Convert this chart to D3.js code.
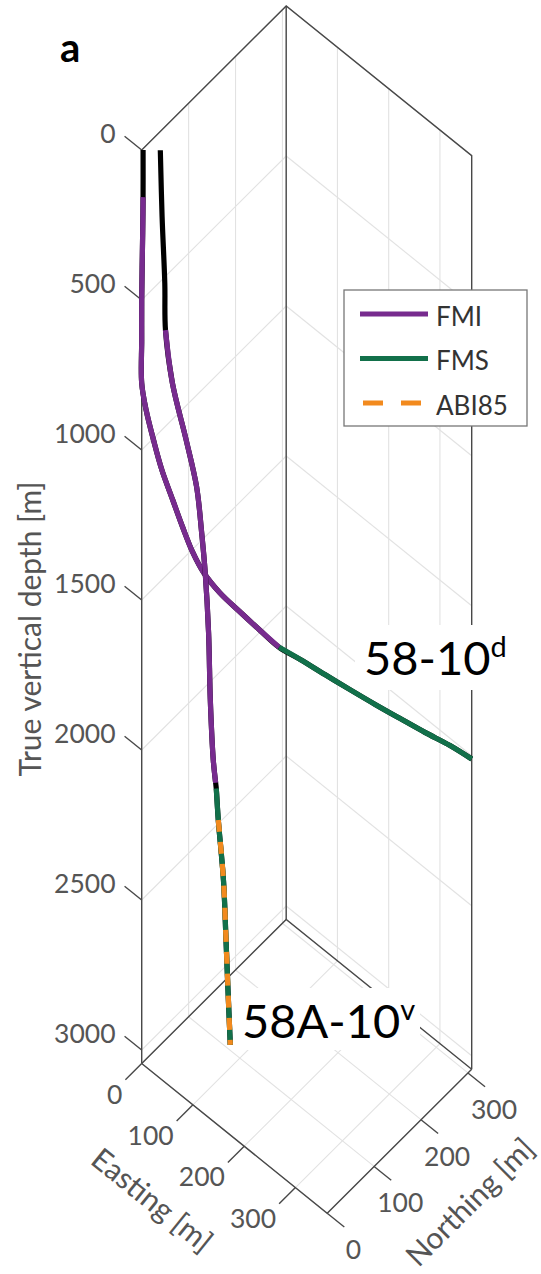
<!DOCTYPE html>
<html>
<head>
<meta charset="utf-8">
<script src="https://cdn.jsdelivr.net/npm/d3@7"></script>
<style>
	body { margin: 0; background: #fff; }
	text { font-family: Lato, "Open Sans", sans-serif; }
</style>
</head>
<body>
<div id="chart"></div>
<script>

//Well 58-10d (deviated) - Easting, Northing, TVD [m]
var wellD_east  = [1.5, 1.5, 1, 0, 0, 0, 5, 13, 22, 34, 45, 56, 68, 86, 109, 130, 151, 174, 201, 228, 256, 283, 311, 338, 362];
var wellD_north = [1.3, 1.3, 1, 0, 0, 0, 4, 11, 19, 29, 38, 48, 58, 73, 93, 110, 128, 148, 171, 194, 218, 241, 264, 288, 308];
var wellD_tvd   = [0, 157, 277, 500, 633, 777, 866, 966, 1066, 1165, 1254, 1340, 1406, 1472, 1538, 1593, 1649, 1689, 1738, 1786, 1835, 1880, 1924, 1968, 2011];

//Well 58A-10v (vertical)
var wellV_east  = [20.4, 22.4, 25.3, 26.1, 33.7, 48.8, 60.2, 65.8, 69.7, 73.4, 75.3, 78.5, 81.1, 81.8, 84, 89.7, 92.5, 94.7, 97.2];
var wellV_north = [17.4, 19, 21.6, 22.2, 28.6, 41.5, 51.2, 56, 59.3, 62.4, 64, 66.8, 69, 69.6, 71.5, 76.3, 78.7, 80.5, 82.7];
var wellV_tvd   = [0, 221, 443, 599, 775, 964, 1119, 1273, 1406, 1606, 1829, 2029, 2105, 2124, 2229, 2429, 2629, 2795, 2978];

//Logged intervals (TVD top / base)
var wellD_logs = [
	{log: "FMI", top: 157, base: 1649},
	{log: "FMS", top: 1649, base: 2011}
];
var wellV_logs = [
	{log: "FMI", top: 599, base: 2105},
	{log: "FMS", top: 2124, base: 2978},
	{log: "ABI85", top: 2229, base: 2978}
];

var logNames  = ["FMI", "FMS", "ABI85"];
var logColors = ["#772b8e", "#12704a", "#f28a1e"];

var depthTicks = [0, 500, 1000, 1500, 2000, 2500, 3000];
var eastTicks  = [0, 100, 200, 300];
var northTicks = [0, 100, 200, 300];

///////////////////////////////////////////////////////////////////////////
/////////////////////////////// Set-up SVG ////////////////////////////////
///////////////////////////////////////////////////////////////////////////

var width = 541;
var height = 1274;

var svg = d3.select("#chart")
	.append("svg")
	.attr("width", width)
	.attr("height", height);

var eMax = 362, nMax = 308, zMax = 3045;

//3D box projected on screen
var origin = [141.7, 150];
var eSpan = [185.5, 149.7];
var nSpan = [144.5, -144];

var eScale = d3.scaleLinear().domain([0, eMax]).range([0, 1]);
var nScale = d3.scaleLinear().domain([0, nMax]).range([0, 1]);
var zScale = d3.scaleLinear().domain([0, zMax]).range([150, 1063.5]);

function proj(e, n, z) {
	var u = eScale(e), v = nScale(n);
	return [origin[0] + u*eSpan[0] + v*nSpan[0], zScale(z) + u*eSpan[1] + v*nSpan[1]];
}

var eLen = Math.hypot(eSpan[0], eSpan[1]);
var nLen = Math.hypot(nSpan[0], nSpan[1]);
var eUnit = [eSpan[0]/eLen, eSpan[1]/eLen];
var nUnit = [nSpan[0]/nLen, nSpan[1]/nLen];

var line = d3.line();
var smooth = d3.line().curve(d3.curveCatmullRom.alpha(0.5));

function seg(g, a, b) {
	g.append("line")
		.attr("x1", a[0]).attr("y1", a[1])
		.attr("x2", b[0]).attr("y2", b[1]);
}

///////////////////////////////////////////////////////////////////////////
//////////////////////////////// Grid ////////////////////////////////////
///////////////////////////////////////////////////////////////////////////

var grid = svg.append("g")
	.style("stroke", "#e2e2e2")
	.style("stroke-width", 1.1);

northTicks.forEach(function(n) {
	seg(grid, proj(0, n, 0), proj(0, n, zMax));
	seg(grid, proj(0, n, zMax), proj(eMax, n, zMax));
});
eastTicks.forEach(function(e) {
	seg(grid, proj(e, nMax, 0), proj(e, nMax, zMax));
	seg(grid, proj(e, 0, zMax), proj(e, nMax, zMax));
});
depthTicks.forEach(function(z) {
	seg(grid, proj(0, 0, z), proj(0, nMax, z));
	seg(grid, proj(0, nMax, z), proj(eMax, nMax, z));
});

///////////////////////////////////////////////////////////////////////////
///////////////////////////////// Box ////////////////////////////////////
///////////////////////////////////////////////////////////////////////////

var box = svg.append("g")
	.style("stroke", "#484848")
	.style("stroke-width", 1.4)
	.style("fill", "none");

box.append("path").attr("d", line([proj(0,0,zMax), proj(0,0,0), proj(0,nMax,0), proj(eMax,nMax,0), proj(eMax,nMax,zMax)]));
box.append("path").attr("d", line([proj(0,nMax,0), proj(0,nMax,zMax)]));
box.append("path").attr("d", line([proj(0,0,zMax), proj(0,nMax,zMax), proj(eMax,nMax,zMax)]));
box.append("path").attr("d", line([proj(0,0,zMax), proj(eMax,0,zMax), proj(eMax,nMax,zMax)]));

///////////////////////////////////////////////////////////////////////////
//////////////////////////////// Axes ////////////////////////////////////
///////////////////////////////////////////////////////////////////////////

var axes = svg.append("g")
	.style("font-size", "26.5px")
	.style("fill", "#555");

depthTicks.forEach(function(z) {
	var p = proj(0, 0, z);
	var q = [p[0] - eUnit[0]*22, p[1] - eUnit[1]*22];
	axes.append("line").attr("x1", p[0]).attr("y1", p[1]).attr("x2", q[0]).attr("y2", q[1])
		.style("stroke", "#484848").style("stroke-width", 1.4);
	axes.append("text")
		.attr("x", q[0] - 9)
		.attr("y", p[1] - 16.5)
		.attr("dy", "0.35em")
		.style("text-anchor", "end")
		.text(z);
});

eastTicks.forEach(function(e) {
	var p = proj(e, 0, zMax);
	var q = [p[0] - nUnit[0]*23, p[1] - nUnit[1]*23];
	axes.append("line").attr("x1", p[0]).attr("y1", p[1]).attr("x2", q[0]).attr("y2", q[1])
		.style("stroke", "#484848").style("stroke-width", 1.4);
	axes.append("text")
		.attr("x", q[0] - 3)
		.attr("y", q[1] + 24)
		.style("text-anchor", "end")
		.text(e);
});

northTicks.forEach(function(n) {
	var p = proj(eMax, n, zMax);
	var q = [p[0] + eUnit[0]*22, p[1] + eUnit[1]*22];
	axes.append("line").attr("x1", p[0]).attr("y1", p[1]).attr("x2", q[0]).attr("y2", q[1])
		.style("stroke", "#484848").style("stroke-width", 1.4);
	axes.append("text")
		.attr("x", q[0] + 9)
		.attr("y", q[1] + 32)
		.style("text-anchor", "middle")
		.text(n);
});

//Axis titles
axes.append("text")
	.attr("transform", "translate(30,629) rotate(-90)")
	.attr("dy", "0.35em")
	.style("text-anchor", "middle")
	.style("font-size", "30px")
	.text("True vertical depth [m]");

axes.append("text")
	.attr("transform", "translate(152,1200) rotate(" + (Math.atan2(eSpan[1], eSpan[0])*180/Math.PI) + ")")
	.attr("dy", "0.35em")
	.style("text-anchor", "middle")
	.style("font-size", "30px")
	.text("Easting [m]");

axes.append("text")
	.attr("transform", "translate(470,1202) rotate(" + (Math.atan2(nSpan[1], nSpan[0])*180/Math.PI) + ")")
	.attr("dy", "0.35em")
	.style("text-anchor", "middle")
	.style("font-size", "30px")
	.text("Northing [m]");

///////////////////////////////////////////////////////////////////////////
/////////////////////////////// Well labels //////////////////////////////
///////////////////////////////////////////////////////////////////////////

function wellLabel(x, y, main, sup, bx, by, bw, bh) {
	svg.append("rect")
		.attr("x", bx).attr("y", by).attr("width", bw).attr("height", bh)
		.style("fill", "white");
	var t = svg.append("text")
		.attr("x", x)
		.attr("y", y)
		.style("font-size", "47px")
		.style("fill", "black");
	t.append("tspan").text(main);
	t.append("tspan").attr("dy", -18).style("font-size", "29px").text(sup);
}

wellLabel(364, 675, "58-10", "d", 355, 625, 160, 65);
wellLabel(242, 1038, "58A-10", "v", 238, 988, 182, 62);

///////////////////////////////////////////////////////////////////////////
///////////////////////////////// Wells //////////////////////////////////
///////////////////////////////////////////////////////////////////////////

var colorScale = d3.scaleOrdinal().domain(logNames).range(logColors);

function drawWell(east, north, tvd, logs) {
	var pts = tvd.map(function(z, i) { return {e: east[i], n: north[i], z: z}; });
	var g = svg.append("g").style("fill", "none").style("stroke-width", 5.2).style("stroke-linejoin", "round");

	g.append("path")
		.attr("d", smooth(pts.map(function(p) { return proj(p.e, p.n, p.z); })))
		.style("stroke", "black");

	logs.forEach(function(l) {
		var sub = pts.filter(function(p) { return p.z >= l.top && p.z <= l.base; });
		g.append("path")
			.attr("d", smooth(sub.map(function(p) { return proj(p.e, p.n, p.z); })))
			.style("stroke", colorScale(l.log))
			.style("stroke-dasharray", l.log === "ABI85" ? "12,10" : null);
	});
}

drawWell(wellD_east, wellD_north, wellD_tvd, wellD_logs);
drawWell(wellV_east, wellV_north, wellV_tvd, wellV_logs);

///////////////////////////////////////////////////////////////////////////
//////////////////////////////// Legend //////////////////////////////////
///////////////////////////////////////////////////////////////////////////

var legend = svg.append("g");

legend.append("rect")
	.attr("x", 344).attr("y", 290)
	.attr("width", 183).attr("height", 136)
	.style("fill", "white")
	.style("stroke", "#777")
	.style("stroke-width", 1.3);

logNames.forEach(function(name, i) {
	var y = 314 + i*44.5;
	legend.append("line")
		.attr("x1", 360).attr("x2", 428)
		.attr("y1", y).attr("y2", y)
		.style("stroke", colorScale(name))
		.style("stroke-width", 5)
		.style("stroke-dasharray", name === "ABI85" ? "20,18" : null)
		.style("stroke-dashoffset", name === "ABI85" ? 35 : null);
	legend.append("text")
		.attr("x", 436)
		.attr("y", y + 11.5)
		.style("font-size", "26px")
		.style("fill", "#333")
		.text(name);
});

//Panel letter
svg.append("text")
	.attr("x", 60)
	.attr("y", 62)
	.style("font-size", "40px")
	.style("font-weight", "bold")
	.style("fill", "black")
	.text("a");

</script>
</body>
</html>
